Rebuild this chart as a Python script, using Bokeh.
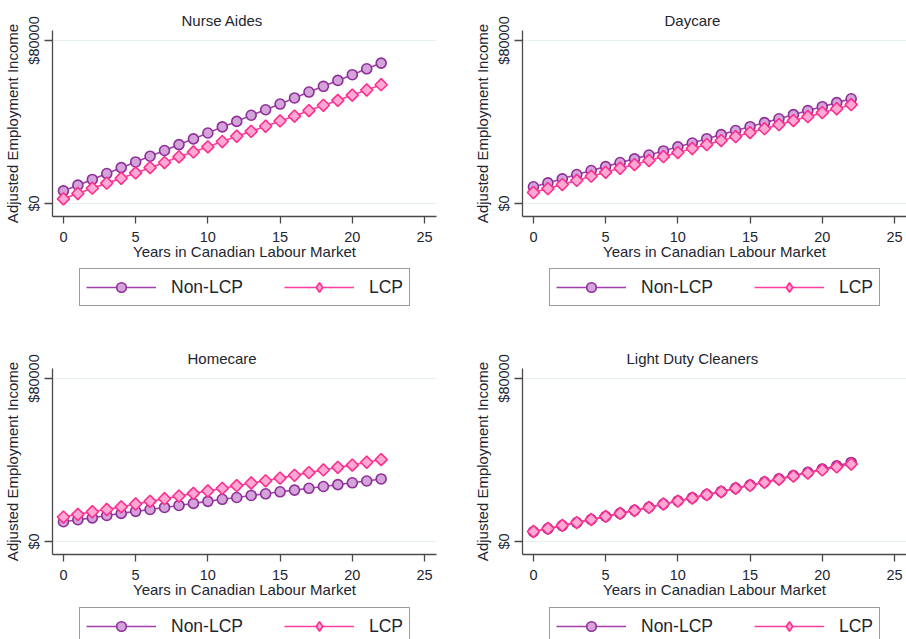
import numpy as np
from bokeh.plotting import figure
from bokeh.models import Legend, LegendItem, FixedTicker, Range1d
from bokeh.layouts import column, row
from bokeh.embed import file_html
from bokeh.resources import INLINE

# ---------------- data ----------------
years = list(range(23))
panel_titles = ["Nurse Aides", "Daycare", "Homecare", "Light Duty Cleaners"]
series_names = ["Non-LCP", "LCP"]

nurse_non_lcp = [6200, 9000, 11800, 14700, 17600, 20400, 23200, 26000, 28900, 31700, 34600, 37600,
                 40300, 43300, 46000, 48800, 51800, 54700, 57500, 60400, 63200, 66100, 68900]
nurse_lcp = [2300, 4900, 7500, 10000, 12400, 15000, 17600, 20100, 22900, 25300, 27800, 30400,
             33000, 35400, 37900, 40500, 42900, 45600, 48200, 50600, 53200, 55700, 58300]
daycare_non_lcp = [8200, 10100, 12100, 14200, 16200, 18100, 20100, 21900, 23800, 25800, 27800, 29700,
                   31800, 33800, 35800, 37700, 39700, 41600, 43600, 45600, 47500, 49500, 51400]
daycare_lcp = [5400, 7300, 9300, 11300, 13400, 15300, 17300, 19100, 21100, 23000, 25000, 27000,
               28900, 30900, 32800, 34800, 36700, 38700, 40700, 42600, 44600, 46500, 48500]
homecare_non_lcp = [9700, 10700, 11600, 12800, 13800, 14800, 15700, 16700, 17700, 18700, 19700, 20700,
                    21600, 22600, 23400, 24400, 25200, 26100, 27000, 27900, 28800, 29700, 30700]
homecare_lcp = [12000, 13300, 14600, 15700, 17000, 18400, 19700, 21000, 22300, 23600, 24800, 26100,
                27400, 28700, 29800, 31100, 32500, 33800, 35100, 36400, 37500, 38900, 40200]
cleaners_non_lcp = [4800, 6300, 7800, 9300, 10800, 12300, 13800, 15300, 16800, 18400, 19900, 21400,
                    23000, 24500, 26200, 27700, 29200, 30800, 32400, 33900, 35500, 37100, 38800]
cleaners_lcp = [4900, 6400, 7900, 9300, 10800, 12300, 13800, 15200, 16700, 18400, 19800, 21300,
                23000, 24400, 26100, 27500, 29000, 30500, 32100, 33600, 35100, 36600, 38000]

x_ticks = [0, 5, 10, 15, 20, 25]
y_ticks = [0, 80000]
y_tick_labels = {0: "$0", 80000: "$80000"}
x_title = "Years in Canadian Labour Market"
y_title = "Adjusted Employment Income"

# ---------------- style ----------------
FONT = "Liberation Sans"
TXT = "#1e2630"
AXIS = "#4a4a4a"
PURPLE = dict(line="#a13fab", fill="#d3a3da", edge="#8e2e98")
PINK = dict(line="#ff3d9e", fill="#ffa8d3", edge="#fb2f8f")


def draw_series(p, y_non, y_lcp, for_legend=False):
    r1l = p.line(years, y_non, line_color=PURPLE["line"], line_width=1.6)
    r1m = p.scatter(years, y_non, marker="circle", size=10, fill_color=PURPLE["fill"],
                    line_color=PURPLE["edge"], line_width=1.6)
    r2l = p.line(years, y_lcp, line_color=PINK["line"], line_width=1.6)
    if for_legend:
        # legend glyphs are drawn unrotated, so use the diamond marker there
        r2m = p.scatter(years, y_lcp, marker="diamond", size=10, fill_color=PINK["fill"],
                        line_color=PINK["edge"], line_width=1.6)
    else:
        r2m = p.scatter(years, y_lcp, marker="square", angle=np.pi / 4, size=8.6,
                        fill_color=PINK["fill"], line_color=PINK["edge"], line_width=1.6)
    return (r1l, r1m), (r2l, r2m)


def make_plot(title, title_offset, non, lcp, width, height, b_left, b_right, b_top, b_bottom):
    p = figure(width=width, height=height, output_backend="svg", toolbar_location=None,
               x_range=Range1d(-0.757, 25.83), y_range=Range1d(-6380, 84900),
               min_border_left=b_left, min_border_right=b_right,
               min_border_top=b_top, min_border_bottom=b_bottom)
    p.outline_line_color = None
    p.background_fill_color = "white"
    p.border_fill_color = "white"

    p.title.text = title
    p.title.align = "left"
    p.title.offset = title_offset
    p.title.text_font = FONT
    p.title.text_font_size = "15px"
    p.title.text_font_style = "normal"
    p.title.text_color = TXT
    p.title.standoff = 4

    draw_series(p, non, lcp)

    p.xaxis.ticker = FixedTicker(ticks=x_ticks)
    p.yaxis.ticker = FixedTicker(ticks=y_ticks)
    p.yaxis.major_label_overrides = y_tick_labels
    p.yaxis.major_label_orientation = "vertical"
    p.xaxis.axis_label = x_title
    p.yaxis.axis_label = y_title
    for ax in (p.xaxis, p.yaxis):
        ax.axis_line_color = AXIS
        ax.axis_line_width = 1.3
        ax.major_tick_line_color = AXIS
        ax.major_tick_line_width = 1.3
        ax.minor_tick_line_color = None
        ax.major_tick_in = 0
        ax.major_label_text_font = FONT
        ax.major_label_text_font_size = "14.5px"
        ax.major_label_text_color = TXT
        ax.axis_label_text_font = FONT
        ax.axis_label_text_font_size = "15px"
        ax.axis_label_text_font_style = "normal"
        ax.axis_label_text_color = TXT
    p.xaxis.major_tick_out = 7
    p.yaxis.major_tick_out = 8
    p.xaxis.major_label_standoff = 8
    p.xaxis.axis_label_standoff = -2
    p.yaxis.major_label_standoff = 2
    p.yaxis.axis_label_standoff = 3

    p.xgrid.grid_line_color = None
    p.ygrid.grid_line_color = "#e6eff2"
    p.ygrid.grid_line_width = 1.2
    return p


def make_legend(non, lcp, width, height, loc):
    # legend strip below a panel; its series lie outside the (0..1) view, only the legend shows
    q = figure(width=width, height=height, output_backend="svg", toolbar_location=None,
               x_axis_type=None, y_axis_type=None, min_border=0,
               x_range=Range1d(0, 1), y_range=Range1d(0, 1))
    q.outline_line_color = None
    q.xgrid.visible = False
    q.ygrid.visible = False
    (a1, a2), (b1, b2) = draw_series(q, non, lcp, for_legend=True)
    legend = Legend(items=[LegendItem(label=series_names[0], renderers=[a1, a2]),
                           LegendItem(label=series_names[1], renderers=[b1, b2])],
                    location=loc, orientation="horizontal")
    legend.margin = 0
    legend.padding = 6
    legend.spacing = 41
    legend.glyph_width = 70
    legend.glyph_height = 24
    legend.label_standoff = 15
    legend.label_text_font = FONT
    legend.label_text_font_size = "17.5px"
    legend.label_text_color = TXT
    legend.border_line_color = "#3a3a3a"
    legend.border_line_width = 1.5
    legend.background_fill_color = "white"
    legend.background_fill_alpha = 1
    q.add_layout(legend, "center")
    return q


p1 = make_plot(panel_titles[0], 129, nurse_non_lcp, nurse_lcp, 470, 262, 50, 34, 30, 46)
p2 = make_plot(panel_titles[1], 142, daycare_non_lcp, daycare_lcp, 436, 262, 50, 0, 30, 46)
p3 = make_plot(panel_titles[2], 135, homecare_non_lcp, homecare_lcp, 470, 261, 50, 34, 29, 46)
p4 = make_plot(panel_titles[3], 104, cleaners_non_lcp, cleaners_lcp, 436, 261, 50, 0, 29, 46)

l1 = make_legend(nurse_non_lcp, nurse_lcp, 470, 77, (27, 33))
l2 = make_legend(daycare_non_lcp, daycare_lcp, 436, 77, (27, 33))
l3 = make_legend(homecare_non_lcp, homecare_lcp, 470, 39, (27, -6))
l4 = make_legend(cleaners_non_lcp, cleaners_lcp, 436, 39, (27, -6))

layout = column(row(column(p1, l1), column(p2, l2)), row(column(p3, l3), column(p4, l4)))

open("out.html", "w").write(file_html(layout, INLINE))
